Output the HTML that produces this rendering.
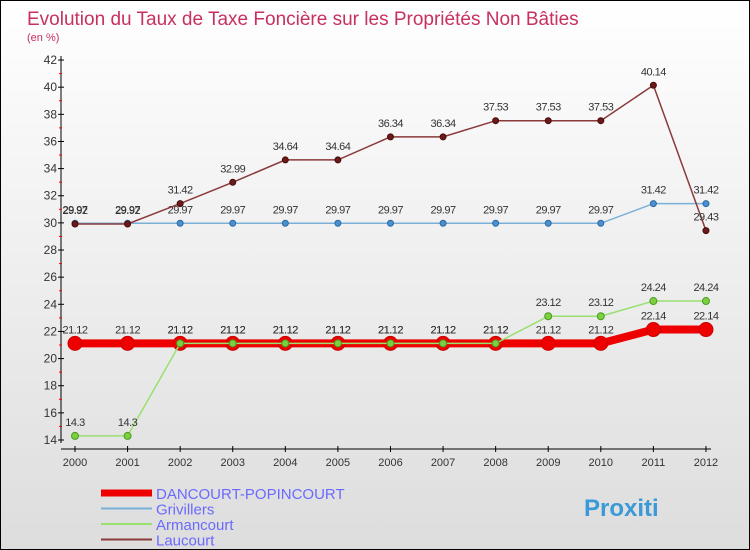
<!DOCTYPE html>
<html><head><meta charset="utf-8"><style>
body{margin:0;}
#wrap{position:relative;width:748px;height:548px;border:1px solid #000;background:linear-gradient(#fff,#ddd);font-family:"Liberation Sans",sans-serif;overflow:hidden;}
</style></head><body>
<div id="wrap">
<svg id="chart" width="748" height="548" xmlns="http://www.w3.org/2000/svg">
<text x="26" y="24" font-size="19" fill="#c8305f">Evolution du Taux de Taxe Foncière sur les Propriétés Non Bâties</text>
<text x="26" y="40" font-size="11" fill="#c8305f">(en %)</text>
<g id="axes"></g><g id="series"></g><g id="legend"></g>
</svg>
</div>
<script>
const years=[2000,2001,2002,2003,2004,2005,2006,2007,2008,2009,2010,2011,2012];
const dancourt=[21.12,21.12,21.12,21.12,21.12,21.12,21.12,21.12,21.12,21.12,21.12,22.14,22.14];
const grivillers=[29.97,29.97,29.97,29.97,29.97,29.97,29.97,29.97,29.97,29.97,29.97,31.42,31.42];
const armancourt=[14.3,14.3,21.12,21.12,21.12,21.12,21.12,21.12,21.12,23.12,23.12,24.24,24.24];
const laucourt=[29.92,29.92,31.42,32.99,34.64,34.64,36.34,36.34,37.53,37.53,37.53,40.14,29.43];
const yTicks=[14,16,18,20,22,24,26,28,30,32,34,36,38,40,42];
const seriesNames=["DANCOURT-POPINCOURT","Grivillers","Armancourt","Laucourt"];
const NS="http://www.w3.org/2000/svg";
const X=i=>74+i*52.58;
const Y=v=>439-(v-14)*13.57;
function mk(tag,attrs,parent,txt){const e=document.createElementNS(NS,tag);for(const k in attrs)e.setAttribute(k,attrs[k]);if(txt!==undefined)e.textContent=txt;parent.appendChild(e);return e;}
const ax=document.getElementById('axes');
let a=mk('line',{x1:60,y1:55,x2:60,y2:442,stroke:'#000','stroke-width':1},ax);


a=mk('line',{x1:60,y1:448,x2:710,y2:448,stroke:'#000','stroke-width':1},ax);


yTicks.forEach((t,i)=>{
  mk('line',{x1:57,y1:Y(t),x2:63,y2:Y(t),stroke:'#000'},ax);
  if(i<yTicks.length-1) mk('line',{x1:58,y1:Y(t+1),x2:61,y2:Y(t+1),stroke:'#f00'},ax);
  const l=mk('text',{x:56,y:Y(t)+4,'font-size':12,fill:'#333','text-anchor':'end'},ax,String(t));
  
  
});
years.forEach((y,i)=>{
  mk('line',{x1:X(i),y1:445,x2:X(i),y2:451,stroke:'#000'},ax);
  const l=mk('text',{x:X(i),y:465,'font-size':11,fill:'#333','text-anchor':'middle'},ax,String(y));
  
  
});
const sg=document.getElementById('series');
function draw(vals,color,w,r,fill,stroke,name){
  const g=mk('g',{},sg);
  
  
  mk('polyline',{points:vals.map((v,i)=>X(i)+','+Y(v)).join(' '),fill:'none',stroke:color,'stroke-width':w},g);
  vals.forEach((v,i)=>{
    const c=mk('circle',{cx:X(i),cy:Y(v),r:r,fill:fill,stroke:stroke,'stroke-width':1},g);
    
    
    const t=mk('text',{x:X(i),y:Y(v)-10,'font-size':11,fill:'#333','text-anchor':'middle','letter-spacing':'-0.5'},g,String(v));
    
    
  });
}
draw(dancourt,'#e00',8,7,'#e00','#c00','series-dancourt');
draw(grivillers,'#7ab0d8',1.5,3,'#4a90d0','#2a6aa0','series-grivillers');
draw(armancourt,'#99e070',1.5,3.5,'#7cd040','#4a9a20','series-armancourt');
draw(laucourt,'#8a3a3a',1.5,3,'#6a1a1a','#4a0a0a','series-laucourt');
const lg=document.getElementById('legend');
const lcol=['#e00','#7ab0d8','#99e070','#8a3a3a'],lw=[7,2,2,2];
seriesNames.forEach((n,i)=>{
  const y=492+i*15.5;
  const g=mk('g',{},lg);
  
  
  mk('line',{x1:100,y1:y,x2:151,y2:y,stroke:lcol[i],'stroke-width':lw[i]},g);
  mk('text',{x:155,y:y+6,'font-size':15,fill:'#6a6aff'},g,n);
});
const p=mk('text',{x:583,y:515,'font-size':24,'font-weight':'bold',fill:'#3a9ad8'},lg,'Proxiti');


</script>
</body></html>
